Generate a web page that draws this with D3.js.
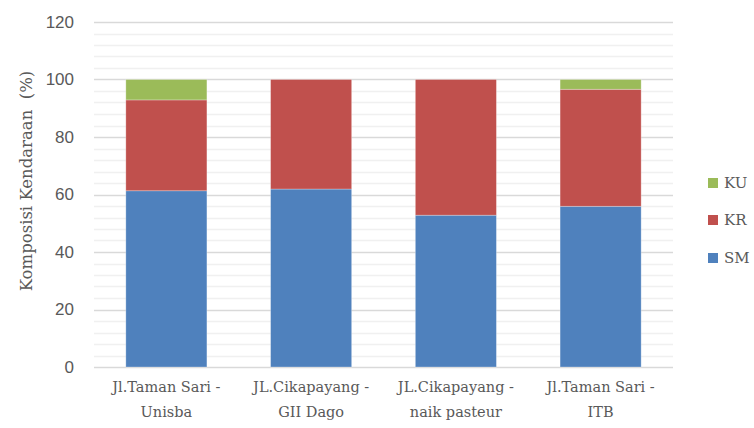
<!DOCTYPE html>
<html><head><meta charset="utf-8">
<script src="https://cdn.jsdelivr.net/npm/d3@7"></script>
<style>body{margin:0;background:#fff}svg{display:block}</style>
</head><body><svg id="c" width="754" height="428"></svg>
<script>
const categories = [["Jl.Taman Sari -","Unisba"],["JL.Cikapayang -","GII Dago"],["JL.Cikapayang -","naik pasteur"],["Jl.Taman Sari -","ITB"]];
const SM = [61.3, 61.9, 52.8, 55.9];
const KR = [31.6, 38.1, 47.2, 40.7];
const KU = [7.1, 0, 0, 3.4];
const seriesNames = ["SM","KR","KU"];
const colors = ["#4f81bd","#c0504d","#9bbb59"];
const yTicks = [0,20,40,60,80,100,120];

const svg = d3.select("#c");
const x = d3.scaleBand().domain(d3.range(categories.length)).range([94,673]).paddingInner(0.44).paddingOuter(0.22);
const y = d3.scaleLinear().domain([0,120]).range([367,22]);

// minor grid
svg.append("g").selectAll("line").data(d3.range(0,121,4).filter(v=>v%20!==0)).join("line")
  .attr("x1",94).attr("x2",673).attr("y1",d=>Math.round(y(d))+0.5).attr("y2",d=>Math.round(y(d))+0.5)
  .attr("stroke","#f0f0f0").attr("stroke-width",1.3);
// major grid
svg.append("g").selectAll("line").data(yTicks).join("line")
  .attr("x1",94).attr("x2",673).attr("y1",d=>Math.round(y(d))+0.5).attr("y2",d=>Math.round(y(d))+0.5)
  .attr("stroke","#d9d9d9").attr("stroke-width",1.3);

const yAxis = d3.axisLeft(y).tickValues(yTicks).tickSize(0).tickPadding(0);
const ya = svg.append("g").attr("transform","translate(74,0)").call(yAxis);
ya.select(".domain").remove();
ya.selectAll("text").attr("font-family","Liberation Sans, Arial, sans-serif").attr("font-size",17).attr("fill","#595959");

const data = categories.map((c,i)=>({SM:SM[i],KR:KR[i],KU:KU[i]}));
const stack = d3.stack().keys(seriesNames)(data);
svg.append("g").selectAll("g").data(stack).join("g").attr("fill",(d,i)=>colors[i])
  .selectAll("rect").data(d=>d.map((v,i)=>({v,i}))).join("rect")
  .attr("x",d=>x(d.i)).attr("width",x.bandwidth())
  .attr("y",d=>y(d.v[1])).attr("height",d=>y(d.v[0])-y(d.v[1]))
  .attr("stroke","#ffffff").attr("stroke-opacity",0.35).attr("stroke-width",0.8);

// x labels
const xl = svg.append("g");
categories.forEach((c,i)=>{
  const t = xl.append("text").attr("x",x(i)+x.bandwidth()/2).attr("text-anchor","middle")
    .attr("font-family","DejaVu Serif, serif").attr("font-size",14.5).attr("fill","#595959");
  t.append("tspan").attr("x",x(i)+x.bandwidth()/2).attr("y",392).text(c[0]);
  t.append("tspan").attr("x",x(i)+x.bandwidth()/2).attr("y",417).text(c[1]);
});

// y title
svg.append("text").attr("transform","translate(32,181) rotate(-90)").attr("text-anchor","middle")
  .attr("font-family","DejaVu Serif, serif").attr("font-size",16.5).attr("fill","#595959")
  .attr("xml:space","preserve").text("Komposisi Kendaraan  (%)");

// legend
const leg = svg.append("g");
const legItems = [["KU",2,183],["KR",1,220],["SM",0,258]];
legItems.forEach(([n,ci,yy])=>{
  leg.append("rect").attr("x",708).attr("y",yy-5).attr("width",10).attr("height",10).attr("fill",colors[ci]);
  leg.append("text").attr("x",724).attr("y",yy+5).attr("font-family","DejaVu Serif, serif").attr("font-size",15).attr("fill","#595959").text(n);
});
</script></body></html>
